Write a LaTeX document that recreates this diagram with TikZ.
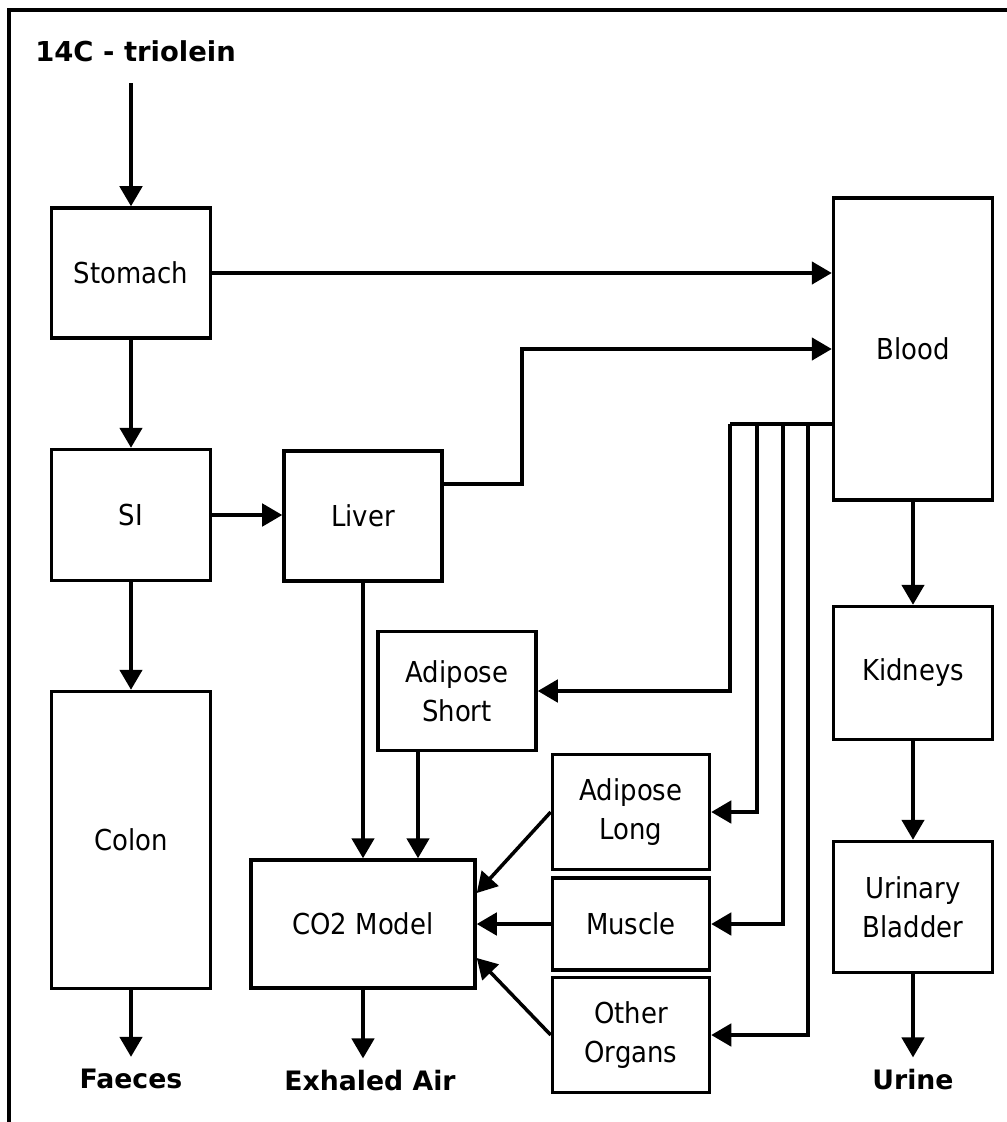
\documentclass[tikz,border=0pt]{standalone}
\usepackage{fontspec}
\setmainfont{DejaVu Sans Condensed}
\newfontfamily\sinkfont{DejaVu Sans}
\usetikzlibrary{arrows.meta, positioning}
\tikzstyle{organ} = [rectangle, draw=black, line width=2.5pt, minimum width=3.975cm, align=center, font=\fontsize{20.5}{27.7}\selectfont]
\tikzstyle{sink} = [font=\sinkfont\fontsize{19}{24}\selectfont\bfseries, inner sep=0.3cm]
\tikzstyle{flow} = [line width=2.5pt, -{Triangle[length=0.5cm,width=0.56cm]}]
\tikzstyle{pipe} = [line width=2.5pt]

\begin{document}
\begin{tikzpicture}[node distance=6cm]
      \useasboundingbox (0,0) rectangle (25.175,-28.05);
      \draw [pipe] (0.225,-28.3) -- (0.225,-0.25) -- (25.4,-0.25);

      \node (stomach) [organ, minimum height=3.25cm] at (3.275,-6.825) {Stomach};
      \node (si) [organ, below of=stomach, yshift=-0.05cm, minimum height=3.275cm] {SI};
      \node (colon) [organ, below of=si, yshift=-2.125cm, minimum height=7.425cm] {Colon};
      \node (liver) [organ, right of=si, xshift=-0.2cm, yshift=-0.025cm, minimum width=3.95cm, minimum height=3.25cm] {Liver};
      \node (co2) [organ, below of=liver, yshift=-4.2cm, minimum width=5.6cm, minimum height=3.2cm] {CO2 Model};
      \node (adiS) [organ, right of=liver, xshift=-3.65cm, yshift=-4.375cm, minimum width=3.95cm, minimum height=2.975cm] {Adipose\\Short};
      \node (muscle) [organ, right of=co2, xshift=0.7cm, minimum width=3.925cm, minimum height=2.3cm] {Muscle};
      \node (adiL) [organ, above of=muscle, yshift=-3.2cm, minimum width=3.925cm, minimum height=2.875cm] {Adipose\\Long};
      \node (other) [organ, below of=muscle, yshift=3.225cm, minimum width=3.925cm, minimum height=2.875cm] {Other\\Organs};
      \node (blood) [organ, right of=stomach, xshift=13.55cm, yshift=-1.9cm, minimum height=7.55cm] {Blood};
      \node (kidneys) [organ, below of=blood, yshift=-2.1cm, minimum height=3.325cm] {Kidneys};
      \node (bladder) [organ, below of=kidneys, yshift=0.15cm, minimum height=3.275cm] {Urinary\\Bladder};

      \node (src) [sink, anchor=west, inner sep=0pt, font=\sinkfont\fontsize{19.5}{24}\selectfont\bfseries] at (0.875,-1.27) {14C - triolein};
      \node (faeces) [sink, below of=colon, yshift=0.025cm] {Faeces};
      \node (exhaled) [sink, below of=co2, xshift=0.175cm, yshift=2.075cm] {Exhaled Air};
      \node (urine) [sink, below of=bladder, yshift=1.675cm] {Urine};

      \coordinate (feed) at (3.275,-2.075);
      \coordinate (b1) at ([yshift=-1.875cm]blood.west);
      \coordinate (j1) at (18.25,-10.6);
      \coordinate (j2) at (18.925,-10.6);
      \coordinate (j3) at (19.575,-10.6);
      \coordinate (j4) at (20.2,-10.6);

      \draw [flow] (feed) -- (stomach);
      \draw [flow] (stomach) -- (si);
      \draw [flow] (si) -- (colon);
      \draw [flow] (colon) -- (faeces);
      \draw [flow] (stomach.east) -- (stomach.east -| blood.west);
      \draw [flow] (si.east) -- (si.east -| liver.west);
      \draw [flow] ([yshift=0.8cm]liver.east) -- ++(1.95,0) |- (blood);
      \draw [flow] (liver) -- (co2);
      \draw [flow] ([xshift=-0.975cm]adiS.south) -- ([xshift=-0.975cm]adiS.south |- co2.north);
      \draw [flow] (adiL.west) -- ([yshift=0.775cm]co2.east);
      \draw [flow] (muscle) -- (co2);
      \draw [flow] (other.west) -- ([yshift=-0.85cm]co2.east);
      \draw [flow] (co2.south) -- (co2.south |- exhaled.north);
      \draw [pipe] (b1) -- (j1);
      \draw [flow] (j1) |- (adiS);
      \draw [flow] (j2) |- (adiL);
      \draw [flow] (j3) |- (muscle);
      \draw [flow] (j4) |- (other);
      \draw [flow] (blood) -- (kidneys);
      \draw [flow] (kidneys) -- (bladder);
      \draw [flow] (bladder) -- (urine);
    \end{tikzpicture}
\end{document}
